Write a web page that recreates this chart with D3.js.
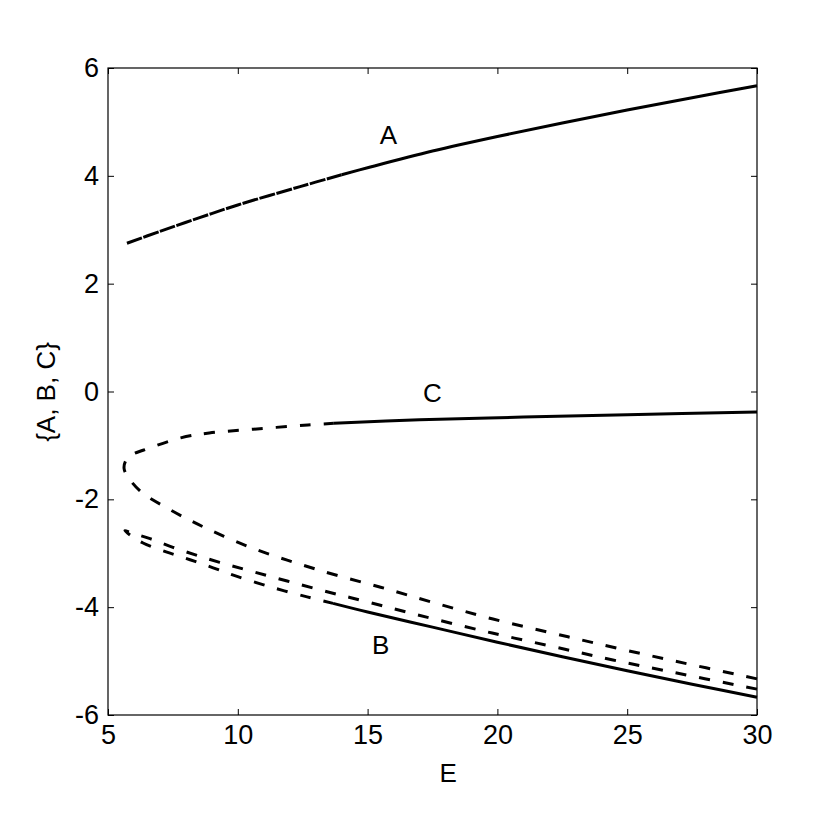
<!DOCTYPE html>
<html>
<head>
<meta charset="utf-8">
<script src="https://cdn.jsdelivr.net/npm/d3@7"></script>
<style>
  html, body { margin: 0; padding: 0; background: #fff; }
  svg { display: block; }
  text { font-family: "Liberation Sans", Arial, Helvetica, sans-serif; fill: #000; }
</style>
</head>
<body>
<svg id="chart" width="836" height="815"></svg>
<script>
// ---------- data ----------
const xTicks = [5, 10, 15, 20, 25, 30];
const xTickLabels = ["5", "10", "15", "20", "25", "30"];
const yTicks = [-6, -4, -2, 0, 2, 4, 6];
const yTickLabels = ["-6", "-4", "-2", "0", "2", "4", "6"];

// Branch A: dashed (overlapping) part, then solid part
const aDashedE = [5.73, 7.0, 8.5, 10.0, 12.4, 14.0];
const aDashedV = [2.75, 2.97, 3.22, 3.46, 3.80, 4.02];
const aSolidE  = [14.0, 15.0, 17.5, 20.0, 22.5, 25.0, 27.5, 30.0];
const aSolidV  = [4.02, 4.15, 4.46, 4.73, 4.98, 5.22, 5.45, 5.67];

// Branch C fold: lower (unstable) branch from E=30 to the nose, then upper branch to E≈13.7 (dashed)
const cDashedE = [30.0, 26.46, 24.6, 22.72, 19.83, 17.5, 15.5, 13.67, 12.5, 11.6, 10.7, 9.82, 8.93, 8.16, 7.27, 6.35, 5.85, 5.62, 5.7, 5.93, 6.35, 7.8, 8.9, 10.6, 12.7, 13.7];
const cDashedV = [-5.33, -4.96, -4.76, -4.55, -4.22, -3.91, -3.63, -3.39, -3.22, -3.08, -2.93, -2.76, -2.57, -2.39, -2.16, -1.89, -1.64, -1.43, -1.27, -1.17, -1.09, -0.86, -0.77, -0.70, -0.62, -0.59];
const cSolidE  = [13.7, 17.0, 21.0, 25.0, 30.0];
const cSolidV  = [-0.59, -0.525, -0.475, -0.43, -0.38];

// Branch B fold: upper (unstable) branch from E=30 to the nose, then lower branch to E≈13.7 (dashed)
const bDashedE = [30.0, 26.38, 24.45, 22.6, 19.8, 16.9, 14.98, 13.17, 10.35, 9.3, 8.43, 7.5, 6.62, 5.9, 5.65, 5.9, 6.35, 7.27, 8.16, 9.05, 9.97, 11.3, 12.67, 13.67];
const bDashedV = [-5.52, -5.17, -4.98, -4.78, -4.48, -4.14, -3.90, -3.68, -3.31, -3.17, -3.04, -2.89, -2.73, -2.62, -2.58, -2.68, -2.81, -2.98, -3.12, -3.27, -3.43, -3.63, -3.81, -3.93];
const bSolidE  = [13.67, 15.0, 17.5, 20.0, 22.5, 25.0, 27.5, 30.0];
const bSolidV  = [-3.93, -4.09, -4.37, -4.65, -4.92, -5.18, -5.43, -5.67];

const curveLabels = ["A", "C", "B"];
const curveLabelE = [15.8, 17.5, 15.5];
const curveLabelV = [4.75, -0.02, -4.7];

const xLabel = "E";
const yLabel = "{A, B, C}";

// ---------- layout ----------
const svg = d3.select("#chart");
const m = { left: 108, top: 68, right: 79, bottom: 100 };
const W = 836, H = 815;
const iw = W - m.left - m.right;   // 649
const ih = H - m.top - m.bottom;   // 647

const xScale = d3.scaleLinear().domain([5, 30]).range([0, iw]);
const yScale = d3.scaleLinear().domain([-6, 6]).range([ih, 0]);

const g = svg.append("g").attr("transform", `translate(${m.left},${m.top})`);

const fs = 27;
const tickLen = 6;

// axes with inward ticks
const axLeft = d3.axisLeft(yScale).tickValues(yTicks).tickSize(-tickLen).tickPadding(9)
  .tickFormat((d, i) => yTickLabels[i]);
const axRight = d3.axisRight(yScale).tickValues(yTicks).tickSize(-tickLen).tickFormat("");
const axBottom = d3.axisBottom(xScale).tickValues(xTicks).tickSize(-tickLen).tickPadding(10)
  .tickFormat((d, i) => xTickLabels[i]);
const axTop = d3.axisTop(xScale).tickValues(xTicks).tickSize(-tickLen).tickFormat("");

function styleAxis(sel) {
  sel.select(".domain").remove();
  sel.selectAll(".tick line").attr("stroke", "#000").attr("stroke-width", 1);
  sel.selectAll(".tick text").style("font-size", fs + "px").attr("fill", "#000")
     .style("font-family", '"Liberation Sans", Arial, sans-serif');
}

g.append("g").call(axLeft).call(styleAxis);
g.append("g").attr("transform", `translate(${iw},0)`).call(axRight).call(styleAxis);
g.append("g").attr("transform", `translate(0,${ih})`).call(axBottom).call(styleAxis);
g.append("g").call(axTop).call(styleAxis);

// frame
g.append("rect").attr("x", 0).attr("y", 0).attr("width", iw).attr("height", ih)
  .attr("fill", "none").attr("stroke", "#000").attr("stroke-width", 1.2);

// lines
const line = d3.line().x(d => xScale(d[0])).y(d => yScale(d[1])).curve(d3.curveCatmullRom.alpha(0.5));
const zip = (a, b) => a.map((v, i) => [v, b[i]]);

const plot = g.append("g").attr("fill", "none").attr("stroke", "#000").attr("stroke-width", 3)
  .attr("stroke-linecap", "butt").attr("stroke-linejoin", "round");

plot.append("path").attr("d", line(zip(aDashedE, aDashedV))).attr("stroke-dasharray", "16,1.5");
plot.append("path").attr("d", line(zip(aSolidE, aSolidV)));
plot.append("path").attr("d", line(zip(cDashedE, cDashedV))).attr("stroke-dasharray", "11,13");
plot.append("path").attr("d", line(zip(cSolidE, cSolidV)));
plot.append("path").attr("d", line(zip(bDashedE, bDashedV))).attr("stroke-dasharray", "11,13");
plot.append("path").attr("d", line(zip(bSolidE, bSolidV)));

// curve labels
g.selectAll(".clabel").data(curveLabels).enter().append("text")
  .attr("class", "clabel")
  .attr("x", (d, i) => xScale(curveLabelE[i]))
  .attr("y", (d, i) => yScale(curveLabelV[i]))
  .attr("text-anchor", "middle").attr("dominant-baseline", "central")
  .style("font-size", "26px")
  .text(d => d);

// axis titles
svg.append("text").attr("x", m.left + xScale(18.1)).attr("y", 782)
  .attr("text-anchor", "middle").style("font-size", "26px").text(xLabel);
svg.append("text").attr("transform", `translate(55,392) rotate(-90)`)
  .attr("text-anchor", "middle").style("font-size", "26px").text(yLabel);
</script>
</body>
</html>
